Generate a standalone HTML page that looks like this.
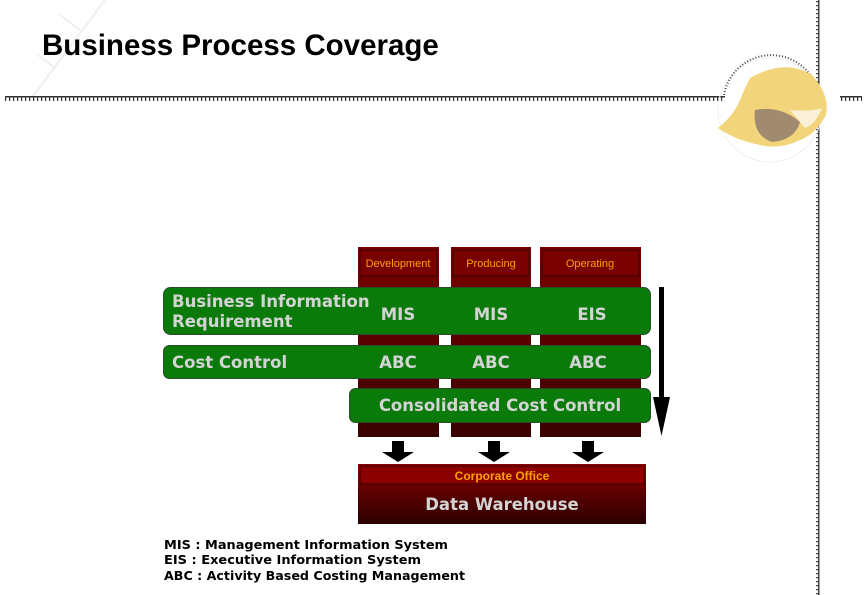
<!DOCTYPE html>
<html><head><meta charset="utf-8"><style>
html,body{margin:0;padding:0;background:#fff;}
svg{display:block;}
</style></head><body>
<svg width="867" height="595" viewBox="0 0 867 595" xmlns="http://www.w3.org/2000/svg">
<defs>
<pattern id="tick" width="4" height="6" patternUnits="userSpaceOnUse"><rect x="0" y="0" width="4" height="1.5" fill="#333"/><rect x="1" y="0" width="1.2" height="5" fill="#333"/></pattern>
<pattern id="tickv" width="6" height="4" patternUnits="userSpaceOnUse"><rect x="2" y="0" width="1.5" height="4" fill="#444"/><rect x="0" y="1" width="3" height="1.2" fill="#444"/></pattern>
<linearGradient id="dw" x1="0" y1="0" x2="0" y2="1"><stop offset="0" stop-color="#8a0000"/><stop offset="1" stop-color="#2a0000"/></linearGradient>
<linearGradient id="col" x1="0" y1="0" x2="0" y2="1"><stop offset="0" stop-color="#7a0000"/><stop offset="1" stop-color="#3a0000"/></linearGradient>
</defs>
<g stroke="#f0f0f0" stroke-width="2" fill="none"><line x1="30" y1="100" x2="105" y2="0"/><line x1="60" y1="15" x2="80" y2="30"/><line x1="48" y1="35" x2="68" y2="50"/><line x1="38" y1="55" x2="55" y2="68"/></g>
<text x="42" y="55" font-family="Liberation Sans, sans-serif" font-weight="bold" font-size="29.5" fill="#000">Business Process Coverage</text>
<rect x="5" y="95" width="720" height="6" fill="url(#tick)"/>
<rect x="840" y="95" width="22" height="6" fill="url(#tick)"/>
<rect x="814" y="0" width="6" height="595" fill="url(#tickv)"/>
<!-- helmet -->
<circle cx="770" cy="110" r="52" fill="none" stroke="#f0f0f0" stroke-width="1"/>
<path d="M724 95 A48 48 0 0 1 818 92" fill="none" stroke="#444" stroke-width="2" stroke-dasharray="1 2"/>
<path d="M750 78 Q785 58 812 75 Q830 95 826 115 Q815 135 800 140 Q780 150 760 145 Q735 140 718 128 Q735 115 742 95 Z" fill="#f2d47a"/>
<path d="M755 110 Q780 105 800 122 Q795 140 772 142 Q752 135 755 110 Z" fill="#a08a70"/>
<path d="M790 110 Q810 112 822 108 Q815 125 805 128 Z" fill="#faf0d8"/>
<g>
<rect x="358" y="247" width="81" height="190" fill="url(#col)"/>
<rect x="451" y="247" width="80" height="190" fill="url(#col)"/>
<rect x="540" y="247" width="101" height="190" fill="url(#col)"/>
<rect x="360" y="250" width="77" height="26" fill="#7a0000" stroke="#3a0000"/>
<rect x="453" y="250" width="76" height="26" fill="#7a0000" stroke="#3a0000"/>
<rect x="542" y="250" width="97" height="26" fill="#7a0000" stroke="#3a0000"/>
</g>
<g font-family="Liberation Sans, sans-serif" font-size="11" fill="#ffa000" text-anchor="middle">
<text x="398" y="267">Development</text><text x="491" y="267">Producing</text><text x="590" y="267">Operating</text>
</g>
<g fill="#0a7a0a" stroke="#2a4a2a" stroke-width="1">
<rect x="163.5" y="287.5" width="487" height="47" rx="7"/>
<rect x="163.5" y="345.5" width="487" height="33" rx="6"/>
<rect x="349.5" y="388.5" width="301" height="34" rx="6"/>
</g>
<g font-family="DejaVu Sans, sans-serif" font-weight="bold" fill="#d4d4d4">
<text x="172" y="307" font-size="16.5">Business Information</text>
<text x="172" y="327" font-size="16.5">Requirement</text>
<text x="172" y="368" font-size="16.5">Cost Control</text>
<g font-size="16.5" text-anchor="middle">
<text x="398" y="320">MIS</text><text x="491" y="320">MIS</text><text x="592" y="320">EIS</text>
<text x="398" y="368">ABC</text><text x="491" y="368">ABC</text><text x="588" y="368">ABC</text>
<text x="500" y="411">Consolidated Cost Control</text>
</g>
</g>
<rect x="659" y="287" width="5" height="110" fill="#000"/>
<polygon points="653,397 670,397 661.5,436" fill="#000"/>
<g fill="#000">
<polygon points="392,441 404,441 404,452 414,452 398,462 382,452 392,452"/>
<polygon points="488,441 500,441 500,452 510,452 494,462 478,452 488,452"/>
<polygon points="582,441 594,441 594,452 604,452 588,462 572,452 582,452"/>
</g>
<rect x="358" y="464" width="288" height="60" fill="url(#dw)"/>
<rect x="360" y="466" width="284" height="18" fill="#8a0000" stroke="#3a0000"/>
<text x="502" y="480" font-family="Liberation Sans, sans-serif" font-weight="bold" font-size="12" fill="#ffa000" text-anchor="middle">Corporate Office</text>
<text x="502" y="510" font-family="DejaVu Sans, sans-serif" font-weight="bold" font-size="16.5" fill="#d4d4d4" text-anchor="middle">Data Warehouse</text>
<g font-family="DejaVu Sans, sans-serif" font-weight="bold" font-size="12" fill="#000">
<text x="164" y="549" textLength="284" lengthAdjust="spacingAndGlyphs">MIS : Management Information System</text>
<text x="164" y="564" textLength="257" lengthAdjust="spacingAndGlyphs">EIS : Executive Information System</text>
<text x="164" y="580" textLength="301" lengthAdjust="spacingAndGlyphs">ABC : Activity Based Costing Management</text>
</g>
</svg>
</body></html>
